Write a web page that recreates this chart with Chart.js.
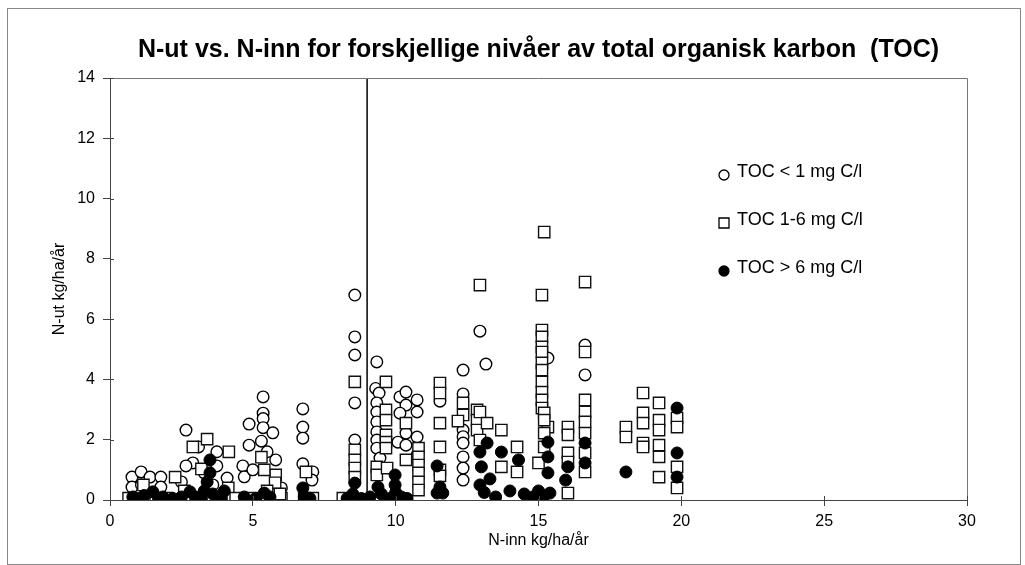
<!DOCTYPE html>
<html><head><meta charset="utf-8">
<script src="https://cdn.jsdelivr.net/npm/chart.js@4.4.1/dist/chart.umd.min.js"></script>
<style>html,body{margin:0;padding:0;background:#fff}#wrap{width:1025px;height:565px;position:relative}</style>
</head><body><div id="wrap"><canvas id="c" width="1025" height="565"></canvas></div>
<script>
const titleText = "N-ut vs. N-inn for forskjellige nivåer av total organisk karbon  (TOC)";
const xAxisTitle = "N-inn kg/ha/år";
const yAxisTitle = "N-ut kg/ha/år";
const seriesLabels = ["TOC < 1 mg C/l", "TOC 1-6 mg C/l", "TOC > 6 mg C/l"];
const xRange = [0, 30];
const xStep = 5;
const yRange = [0, 14];
const yStep = 2;
const refLineX = 9;

// TOC < 1 mg C/l (open circles)
const tocLow = [
  [0.77,0.76],[1.09,0.93],[1.4,0.76],[1.78,0.76],[0.77,0.43],[1.78,0.43],[1.1,0.5],
  [2.66,2.32],[3.1,1.76],[3.74,1.6],[2.9,1.23],[2.66,1.13],[3.74,1.13],[4.1,0.73],[3.3,0.9],[2.5,0.6],[3.6,0.5],
  [5.36,3.42],[5.36,2.88],[5.36,2.7],[4.87,2.52],[5.36,2.4],[5.7,2.23],[5.3,1.95],[4.87,1.82],[5.8,1.33],[4.65,1.13],[4.7,0.77],[6.0,0.4],[5.0,1.0],[5.5,1.6],
  [6.75,3.02],[6.75,2.42],[6.75,2.05],[6.75,1.2],[7.1,0.93],[7.07,0.66],
  [8.57,6.8],[8.57,5.41],[8.57,4.81],[8.57,3.22],[8.57,1.99],
  [9.34,4.58],[9.3,3.7],[9.42,3.55],[9.34,3.22],[9.34,2.92],[9.34,2.59],[9.34,2.26],[9.34,1.99],[9.34,1.72],[9.45,1.39],
  [10.15,3.42],[10.36,3.58],[10.75,3.32],[10.36,3.15],[10.15,2.88],[10.75,2.92],[10.36,2.22],[10.75,2.09],[10.08,1.92],[10.36,1.82],[10.75,1.5],
  [11.55,3.28],
  [12.36,4.31],[12.36,3.52],[12.36,2.32],[12.36,2.1],[12.36,1.89],[12.36,1.43],[12.36,1.06],[12.36,0.66],
  [12.95,5.6],[13.16,4.51],
  [15.33,4.71],
  [16.63,5.14],[16.63,4.15]
];

// TOC 1-6 mg C/l (open squares)
const tocMid = [
  [0.65,0.06],[1.17,0.5],[1.6,0.06],[2.0,0.06],
  [2.9,1.76],[3.4,2.02],[4.16,1.6],[3.2,1.03],[2.28,0.76],[4.14,0.4],[4.4,0.06],[3.0,0.06],[2.6,0.3],[3.8,0.1],
  [5.3,1.42],[5.8,0.83],[5.78,0.57],[4.97,0.06],[6.0,0.06],[5.4,1.0],[5.5,0.3],
  [6.86,0.93],[6.8,0.06],[7.1,0.06],[5.95,0.2],
  [8.57,3.92],[8.57,1.66],[8.57,1.33],[8.57,1.06],[8.57,0.76],[8.15,0.06],
  [9.66,3.92],[9.66,2.99],[9.66,2.65],[9.66,2.16],[9.66,1.92],[9.66,1.72],[9.34,1.1],[9.34,0.83],[9.7,1.06],
  [10.36,2.55],[10.36,1.33],[10.8,1.72],[10.8,1.43],[10.8,1.16],[10.8,0.9],[10.8,0.6],[10.8,0.33],
  [11.55,3.88],[11.55,3.55],[11.55,2.55],[11.55,1.76],[11.55,1.0],[11.55,0.8],
  [12.36,3.22],[12.36,2.82],[12.18,2.62],[12.85,2.99],[12.85,2.65],[12.85,2.32],
  [12.95,7.13],[12.95,2.92],[13.2,2.55],[13.7,2.32],[12.95,1.99],[13.7,1.1],[14.25,1.76],[14.25,0.93],
  [15.2,8.89],[15.12,6.8],[15.12,5.64],[15.12,5.41],[15.12,5.08],[15.12,4.91],[15.12,4.55],[15.12,4.31],[15.12,3.92],[15.12,3.58],[15.12,3.32],[15.12,3.05],[15.2,2.89],[15.33,2.42],[15.2,2.65],[15.2,2.22],[15.2,1.76],[15.0,1.23],
  [16.63,7.23],[16.63,4.91],[16.63,3.32],[16.63,2.92],[16.63,2.59],[16.63,2.22],[16.63,1.56],[16.63,0.93],
  [16.03,2.42],[16.03,2.16],[16.03,1.56],[16.03,1.26],[16.03,0.23],
  [18.06,2.42],[18.06,2.09],
  [18.66,3.55],[18.66,2.89],[18.66,2.55],[18.66,1.89],[18.66,1.76],
  [19.22,3.22],[19.22,2.65],[19.22,2.32],[19.22,1.82],[19.22,1.43],[19.22,0.76],
  [19.85,2.72],[19.85,2.42],[19.85,1.1],[19.85,0.4]
];

// TOC > 6 mg C/l (filled circles)
const tocHigh = [
  [0.8,0.1],[1.0,0.05],[1.2,0.15],[1.5,0.27],[1.7,0.05],[1.85,0.1],[2.2,0.05],[2.5,0.1],
  [2.8,0.27],[3.0,0.1],[3.3,0.3],[3.5,1.33],[3.5,0.9],[3.4,0.6],[3.6,0.2],[3.9,0.05],[4.0,0.3],[3.2,0.05],
  [4.7,0.1],[5.4,0.23],[5.1,0.05],[5.6,0.1],
  [6.75,0.4],[6.8,0.1],[7.0,0.05],
  [8.3,0.05],[8.57,0.56],[8.5,0.2],[8.8,0.05],
  [9.38,0.43],[9.1,0.1],[9.5,0.2],[9.8,0.05],[10.0,0.25],[10.2,0.1],[10.4,0.05],[9.98,0.83],[9.98,0.5],
  [11.45,1.13],[11.55,0.43],[11.45,0.23],[11.65,0.23],
  [13.2,1.89],[12.95,1.59],[13.7,1.59],[13.0,1.1],[13.3,0.7],[13.1,0.25],[12.95,0.5],[13.5,0.1],
  [14.3,1.33],[14.0,0.3],[14.5,0.2],[14.8,0.1],[15.0,0.3],[15.2,0.15],
  [15.33,1.92],[15.33,1.43],[15.33,0.9],[15.4,0.23],
  [16.03,1.1],[15.95,0.66],
  [16.63,1.89],[16.63,1.23],
  [18.06,0.93],
  [19.85,3.05],[19.85,1.56],[19.85,0.76]
];

const toPts = a => a.map(p => ({x: p[0], y: p[1]}));
const FONT = "'Liberation Sans', Arial, sans-serif";

const deco = {
  id: 'deco',
  afterDraw(chart) {
    const ctx = chart.ctx, a = chart.chartArea;
    const xs = chart.scales.x, ys = chart.scales.y;
    ctx.save();
    // plot frame top/right
    ctx.strokeStyle = '#777'; ctx.lineWidth = 1;
    ctx.beginPath();
    ctx.moveTo(a.left, a.top + 0.5); ctx.lineTo(a.right + 0.5, a.top + 0.5); ctx.lineTo(a.right + 0.5, a.bottom);
    ctx.stroke();
    // inner half of cross tick marks
    ctx.strokeStyle = '#444';
    ctx.beginPath();
    xs.ticks.forEach(t => { const px = Math.round(xs.getPixelForValue(t.value)) + 0.5; ctx.moveTo(px, a.bottom); ctx.lineTo(px, a.bottom - 4); });
    ys.ticks.forEach(t => { const py = Math.round(ys.getPixelForValue(t.value)) + 0.5; ctx.moveTo(a.left, py); ctx.lineTo(a.left + 4, py); });
    ctx.stroke();
    // outer border
    ctx.strokeStyle = '#888';
    ctx.strokeRect(7.5, 8.5, 1013, 556);
    // title
    ctx.fillStyle = '#000';
    ctx.font = "bold 25px " + FONT;
    ctx.textAlign = 'center'; ctx.textBaseline = 'middle';
    ctx.fillText(titleText, (a.left + a.right) / 2, 50);
    // axis titles
    ctx.font = "16px " + FONT;
    ctx.fillText(xAxisTitle, (a.left + a.right) / 2, 541);
    ctx.save();
    ctx.translate(60, (a.top + a.bottom) / 2);
    ctx.rotate(-Math.PI / 2);
    ctx.fillText(yAxisTitle, 0, 0);
    ctx.restore();
    // legend
    const styles = chart.data.datasets.filter(d => d.legendIdx !== undefined).sort((p, q) => p.legendIdx - q.legendIdx);
    ctx.font = "18px " + FONT;
    ctx.textAlign = 'left';
    styles.forEach((d, i) => {
      const y = 175 + i * 48, x = 724;
      ctx.lineWidth = 1.3; ctx.strokeStyle = '#000'; ctx.fillStyle = d.pointBackgroundColor;
      ctx.beginPath();
      if (d.pointStyle === 'rect') { ctx.rect(x - 5, y - 5, 10, 10); }
      else { ctx.arc(x, y, 5, 0, Math.PI * 2); }
      ctx.fill(); ctx.stroke();
      ctx.fillStyle = '#000';
      ctx.fillText(d.label, 737, y - 3);
    });
    ctx.restore();
  }
};

new Chart(document.getElementById('c'), {
  type: 'scatter',
  data: {
    datasets: [
      { type: 'line', label: 'ref', data: [{x: refLineX, y: yRange[0]}, {x: refLineX, y: yRange[1]}],
        borderColor: '#000', borderWidth: 1.5, pointRadius: 0, order: 0 },
      { label: seriesLabels[2], legendIdx: 2, data: toPts(tocHigh), pointStyle: 'circle', pointRadius: 6,
        pointBackgroundColor: '#000', pointBorderColor: '#000', pointBorderWidth: 1, order: 1 },
      { label: seriesLabels[1], legendIdx: 1, data: toPts(tocMid), pointStyle: 'rect', pointRadius: 8,
        pointBackgroundColor: '#fff', pointBorderColor: '#111', pointBorderWidth: 1.4, order: 2 },
      { label: seriesLabels[0], legendIdx: 0, data: toPts(tocLow), pointStyle: 'circle', pointRadius: 5.8,
        pointBackgroundColor: '#fff', pointBorderColor: '#000', pointBorderWidth: 1.4, order: 3 }
    ]
  },
  options: {
    responsive: false, animation: false, devicePixelRatio: 1,
    layout: { padding: { left: 0, top: 78, right: 58, bottom: 0 } },
    plugins: { legend: { display: false }, tooltip: { enabled: false }, title: { display: false } },
    scales: {
      x: {
        type: 'linear', min: xRange[0], max: xRange[1],
        ticks: { stepSize: xStep, color: '#000', font: { family: FONT, size: 16 }, padding: 6, maxRotation: 0 },
        grid: { display: true, drawOnChartArea: false, drawTicks: true, tickLength: 6, color: '#444' },
        border: { display: true, color: '#444', width: 1 },
        afterFit(s) { s.height = 65; }
      },
      y: {
        type: 'linear', min: yRange[0], max: yRange[1],
        ticks: { stepSize: yStep, color: '#000', font: { family: FONT, size: 16 }, padding: 8 },
        grid: { display: true, drawOnChartArea: false, drawTicks: true, tickLength: 7, color: '#444' },
        border: { display: true, color: '#444', width: 1 },
        afterFit(s) { s.width = 110; }
      }
    }
  },
  plugins: [deco]
});
</script></body></html>
